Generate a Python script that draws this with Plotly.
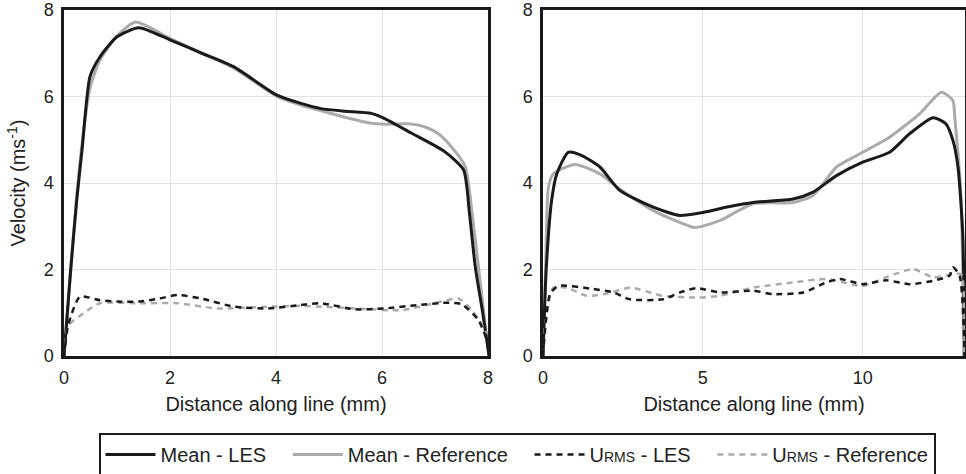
import plotly.graph_objects as go

# ---------- data ----------
# Left panel (line length 8 mm)
L_x_mean_les = [0.0, 0.12, 0.24, 0.34, 0.49, 0.68, 1.0, 1.41, 2.02, 2.6, 3.2, 4.02, 4.47, 4.85, 5.3, 5.8, 6.05, 6.56, 7.19, 7.54, 7.65, 7.76, 7.9, 8.02]
L_y_mean_les = [0.0, 1.9, 3.6, 4.76, 6.46, 6.92, 7.38, 7.59, 7.3, 7.0, 6.69, 6.03, 5.84, 5.72, 5.66, 5.61, 5.49, 5.15, 4.72, 4.3, 3.3, 2.06, 1.0, 0.0]
L_x_mean_ref = [0.0, 0.12, 0.24, 0.34, 0.49, 0.68, 1.0, 1.35, 2.02, 2.6, 3.2, 4.02, 4.47, 4.85, 5.3, 5.8, 6.05, 6.5, 6.8, 7.05, 7.3, 7.57, 7.7, 7.82, 7.92, 8.02]
L_y_mean_ref = [0.0, 1.9, 3.7, 4.9, 6.2, 6.85, 7.4, 7.72, 7.33, 7.0, 6.66, 6.0, 5.8, 5.67, 5.52, 5.38, 5.36, 5.37, 5.3, 5.15, 4.85, 4.38, 3.3, 2.06, 1.0, 0.0]
L_x_rms_les = [0.0, 0.08, 0.3, 0.68, 1.0, 1.44, 1.8, 2.14, 2.58, 3.21, 3.84, 4.47, 4.85, 5.48, 6.05, 6.69, 7.19, 7.5, 7.82, 8.0]
L_y_rms_les = [0.0, 0.72, 1.37, 1.29, 1.26, 1.26, 1.33, 1.41, 1.33, 1.14, 1.1, 1.18, 1.22, 1.08, 1.1, 1.18, 1.23, 1.2, 0.83, 0.3]
L_x_rms_ref = [0.0, 0.08, 0.37, 0.68, 1.44, 2.14, 2.9, 3.84, 4.47, 4.85, 5.5, 6.37, 7.13, 7.44, 7.7, 7.98]
L_y_rms_ref = [0.0, 0.7, 0.99, 1.22, 1.22, 1.22, 1.1, 1.14, 1.16, 1.14, 1.1, 1.06, 1.26, 1.33, 1.06, 0.52]

# Right panel (line length ~13.2 mm)
R_x_mean_les = [0.0, 0.1, 0.27, 0.43, 0.79, 1.2, 1.78, 2.4, 3.45, 4.28, 5.0, 5.8, 6.57, 7.82, 8.45, 9.18, 10.0, 10.84, 11.47, 12.2, 12.6, 12.82, 12.98, 13.13, 13.19]
R_y_mean_les = [0.0, 2.0, 3.6, 4.21, 4.71, 4.64, 4.37, 3.83, 3.44, 3.25, 3.32, 3.45, 3.55, 3.63, 3.79, 4.17, 4.48, 4.71, 5.14, 5.51, 5.37, 4.99, 4.37, 2.82, 0.0]
R_x_mean_ref = [0.0, 0.08, 0.17, 0.32, 1.0, 1.78, 2.4, 3.45, 4.28, 4.75, 5.53, 6.57, 7.82, 8.45, 9.18, 10.0, 10.84, 11.78, 12.46, 12.82, 12.88, 13.08, 13.16]
R_y_mean_ref = [0.0, 2.0, 3.9, 4.21, 4.43, 4.21, 3.86, 3.36, 3.09, 2.97, 3.13, 3.52, 3.55, 3.71, 4.37, 4.71, 5.06, 5.6, 6.1, 5.91, 5.52, 3.59, 0.0]
R_x_rms_les = [0.0, 0.22, 0.48, 1.57, 2.2, 2.72, 3.76, 4.28, 4.8, 5.53, 6.57, 7.2, 8.14, 8.86, 9.28, 10.0, 10.74, 11.47, 12.2, 12.72, 12.82, 13.03, 13.19]
R_y_rms_les = [0.0, 1.43, 1.62, 1.55, 1.47, 1.31, 1.31, 1.47, 1.57, 1.47, 1.51, 1.43, 1.47, 1.7, 1.78, 1.66, 1.75, 1.66, 1.74, 1.86, 2.05, 1.86, 0.0]
R_x_rms_ref = [0.0, 0.06, 0.32, 0.74, 1.37, 1.99, 2.72, 3.76, 4.8, 5.53, 6.57, 7.82, 8.86, 10.0, 10.74, 11.57, 12.2, 12.82, 13.08, 13.18]
R_y_rms_ref = [0.0, 0.66, 1.58, 1.58, 1.39, 1.44, 1.58, 1.39, 1.35, 1.39, 1.58, 1.7, 1.78, 1.62, 1.82, 2.01, 1.82, 1.89, 1.89, 0.0]

x_ticks_left = [0, 2, 4, 6, 8]
x_ticks_right = [0, 5, 10]
y_ticks = [0, 2, 4, 6, 8]

PAD = "\u00a0" * 3
names = ["Mean - LES" + PAD, "Mean - Reference" + PAD,
         'U<span style="font-size:14px">RMS</span> - LES' + PAD,
         'U<span style="font-size:14px">RMS</span> - Reference']

BLACK = "#1a1a1a"
GREY = "#ababab"

styles = [
    dict(color=BLACK, width=3),
    dict(color=GREY, width=3),
    dict(color=BLACK, width=2.5, dash="6px,5px"),
    dict(color=GREY, width=2.5, dash="6px,5px"),
]

fig = go.Figure()

left = [(L_x_mean_les, L_y_mean_les), (L_x_mean_ref, L_y_mean_ref),
        (L_x_rms_les, L_y_rms_les), (L_x_rms_ref, L_y_rms_ref)]
right = [(R_x_mean_les, R_y_mean_les), (R_x_mean_ref, R_y_mean_ref),
         (R_x_rms_les, R_y_rms_les), (R_x_rms_ref, R_y_rms_ref)]

order = [1, 0, 3, 2]  # draw grey under black
for i in order:
    xs, ys = left[i]
    fig.add_trace(go.Scatter(x=xs, y=ys, mode="lines", name=names[i],
                             line=dict(shape="spline", smoothing=0.6, **styles[i]),
                             xaxis="x", yaxis="y", legendrank=i + 1, showlegend=True))
for i in order:
    xs, ys = right[i]
    fig.add_trace(go.Scatter(x=xs, y=ys, mode="lines", name=names[i],
                             line=dict(shape="spline", smoothing=0.6, **styles[i]),
                             xaxis="x2", yaxis="y2", showlegend=False))

W, H = 966, 474
ml, mr, mt, mb = 64, 1, 10, 118
pw = W - ml - mr

axis_common = dict(showgrid=True, gridcolor="#e2e2e2", gridwidth=1,
                   showline=True, linecolor=BLACK, linewidth=2.5, mirror=True,
                   zeroline=False, ticks="",
                   tickfont=dict(family="Liberation Sans, Arial", size=18, color="#222"))

fig.update_layout(
    width=W, height=H,
    margin=dict(l=ml, r=mr, t=mt, b=mb, autoexpand=False),
    paper_bgcolor="white", plot_bgcolor="white",
    font=dict(family="Liberation Sans, Arial", size=20, color="#222"),
    xaxis=dict(domain=[0, 424 / pw], range=[0, 8], tickvals=x_ticks_left, ticklabelstandoff=4,
               title=dict(text="Distance along line (mm)", standoff=10,
                          font=dict(size=20)), **axis_common),
    yaxis=dict(domain=[0, 1], range=[0, 8], tickvals=y_ticks, anchor="x", ticklabelstandoff=4,
               title=dict(text="Velocity (ms<sup>-1</sup>)", standoff=13,
                          font=dict(size=20)), **axis_common),
    xaxis2=dict(domain=[479 / pw, 1], range=[0, 13.2], tickvals=x_ticks_right, anchor="y2",
                ticklabelstandoff=4,
                title=dict(text="Distance along line (mm)", standoff=10,
                           font=dict(size=20)), **axis_common),
    yaxis2=dict(domain=[0, 1], range=[0, 8], tickvals=y_ticks, anchor="x2", ticklabelstandoff=4,
                **axis_common),
    legend=dict(orientation="h", x=(517 - ml) / pw, xanchor="center",
                y=-(433 - 356) / 346, yanchor="top",
                bordercolor=BLACK, borderwidth=2, bgcolor="white",
                itemwidth=50,
                font=dict(size=20, color="#222"), traceorder="normal"),
    showlegend=True,
)

fig.write_html("out.html", config={"displayModeBar": False},
               post_script="document.body.style.margin='0';")
